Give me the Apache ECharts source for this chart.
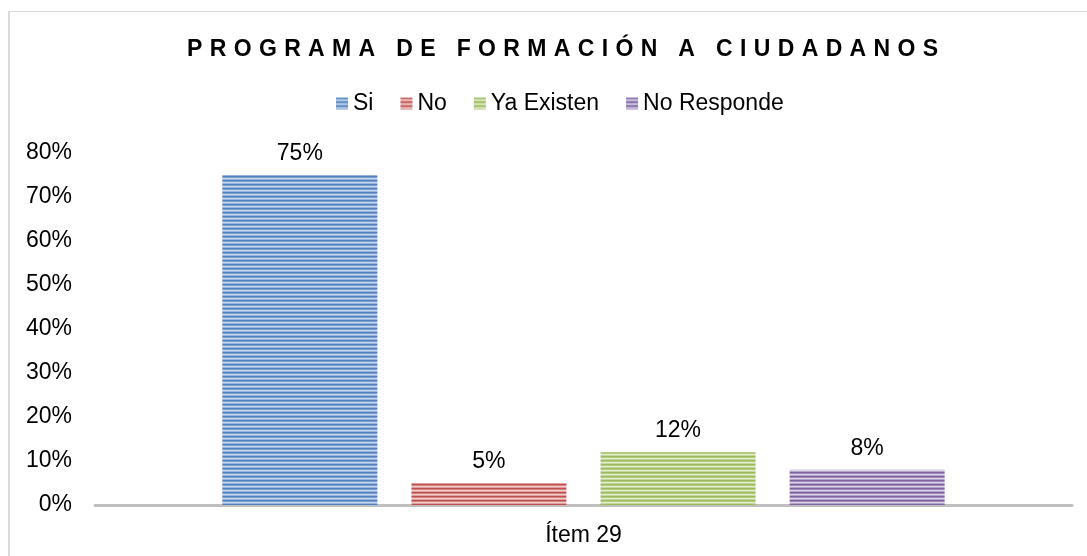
<!DOCTYPE html>
<html>
<head>
<meta charset="utf-8">
<script src="https://cdn.jsdelivr.net/npm/echarts@6/dist/echarts.min.js"></script>
<style>
html,body{margin:0;padding:0;background:#fff;}
#chart{width:1087px;height:556px;}
</style>
</head>
<body>
<div id="chart"></div>
<script>
const titleText = 'PROGRAMA DE FORMACIÓN A CIUDADANOS';
const categories = ['Ítem 29'];
const seriesNames = ['Si', 'No', 'Ya Existen', 'No Responde'];
const seriesValues = [[0.75], [0.05], [0.12], [0.08]];
const yTicks = [0, 0.1, 0.2, 0.3, 0.4, 0.5, 0.6, 0.7, 0.8];

// stripe palettes (dark, mid, light, mid)
const stripes = [
  ['#4f81bd', '#7b9fd1', '#c6d6ec', '#98b4dc'],
  ['#c0504d', '#d4827f', '#f0cfce', '#dfa09e'],
  ['#9bbb59', '#b3cc80', '#e2ecce', '#c4d89c'],
  ['#8064a2', '#9d88bb', '#ddd5e8', '#b3a3cb']
];
function stripePattern(cols) {
  const c = document.createElement('canvas');
  c.width = 4; c.height = cols.length;
  const g = c.getContext('2d');
  cols.forEach((col, i) => { g.fillStyle = col; g.fillRect(0, i, 4, 1); });
  return { image: c, repeat: 'repeat' };
}

// letter spacing for the title
const origFill = CanvasRenderingContext2D.prototype.fillText;
CanvasRenderingContext2D.prototype.fillText = function (t) {
  if (t === titleText && 'letterSpacing' in this) {
    const prev = this.letterSpacing;
    this.letterSpacing = '7.35px';
    const r = origFill.apply(this, arguments);
    this.letterSpacing = prev;
    return r;
  }
  return origFill.apply(this, arguments);
};

const FONT = '"Liberation Sans", Arial, sans-serif';
const chart = echarts.init(document.getElementById('chart'), null, { renderer: 'canvas' });
const pct = v => Math.round(v * 100) + '%';

chart.setOption({
  animation: false,
  backgroundColor: '#ffffff',
  title: {
    text: titleText,
    left: 187,
    top: 38,
    padding: 0,
    textStyle: { fontFamily: FONT, fontSize: 23, fontWeight: 'bold', color: '#000000' }
  },
  legend: {
    data: seriesNames,
    left: 336,
    top: 92,
    padding: 0,
    itemWidth: 12,
    itemHeight: 12,
    itemGap: 27,
    icon: 'rect',
    textStyle: { fontFamily: FONT, fontSize: 23, color: '#000000' }
  },
  grid: { left: 95, right: 15, top: 153, bottom: 51, containLabel: false },
  xAxis: {
    type: 'category',
    data: categories,
    axisLine: { lineStyle: { color: '#bfbfbf', width: 3 } },
    axisTick: { show: false },
    axisLabel: { fontFamily: FONT, fontSize: 23, color: '#000000', margin: 19 }
  },
  yAxis: {
    type: 'value',
    min: yTicks[0],
    max: yTicks[yTicks.length - 1],
    interval: 0.1,
    splitLine: { show: false },
    axisLine: { show: false },
    axisTick: { show: false },
    axisLabel: { fontFamily: FONT, fontSize: 23, color: '#000000', margin: 23, formatter: pct }
  },
  graphic: [
    { type: 'rect', shape: { x: 8, y: 11, width: 2, height: 545 }, style: { fill: '#d9d9d9' }, silent: true },
    { type: 'rect', shape: { x: 8, y: 11, width: 1079, height: 1 }, style: { fill: '#d9d9d9' }, silent: true }
  ],
  series: seriesNames.map((name, i) => ({
    name: name,
    type: 'bar',
    data: seriesValues[i],
    barWidth: 155,
    barGap: '22%',
    itemStyle: { color: stripePattern(stripes[i]) },
    label: {
      show: true,
      position: 'top',
      distance: 10,
      fontFamily: FONT,
      fontSize: 23,
      color: '#000000',
      formatter: p => pct(p.value)
    }
  }))
});
</script>
</body>
</html>
